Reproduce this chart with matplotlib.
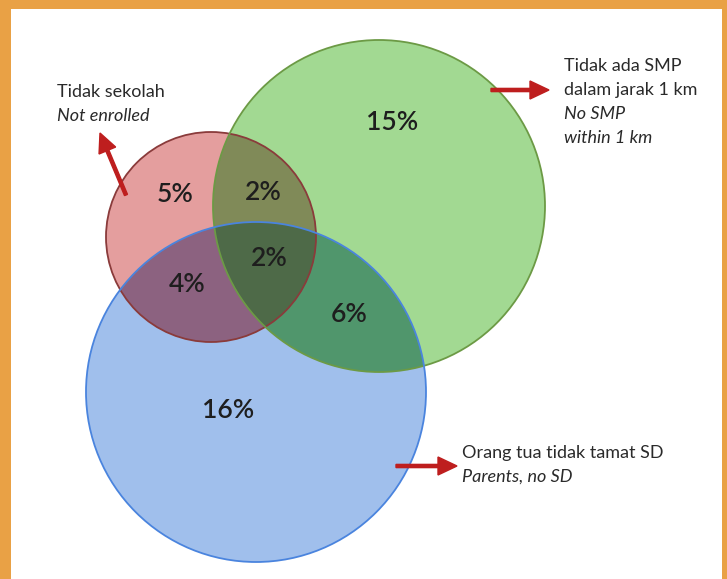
import numpy as np
import matplotlib
matplotlib.use("Agg")
import matplotlib.pyplot as plt
from matplotlib.patches import Circle, Rectangle, Polygon

plt.rcParams['font.family'] = ['Lato', 'DejaVu Sans']

# ---- data ----
set_names = ["Tidak sekolah", "Tidak ada SMP dalam jarak 1 km", "Orang tua tidak tamat SD"]
set_lines = [
    [("Tidak sekolah", "normal"), ("Not enrolled", "italic")],
    [("Tidak ada SMP", "normal"), ("dalam jarak 1 km", "normal"),
     ("No SMP", "italic"), ("within 1 km", "italic")],
    [("Orang tua tidak tamat SD", "normal"), ("Parents, no SD", "italic")],
]
region_keys = ["100", "010", "001", "110", "101", "011", "111"]
region_values = [5, 15, 16, 2, 4, 6, 2]

# ---- layout (pixel coordinates, y downward) ----
W, H = 727, 579
centers = [(211, 237), (379, 206), (256, 392)]
radii = [105, 166, 170]
single_colors = ["#E49E9E", "#A2D992", "#A0BFEC"]
edge_colors = ["#8A3B3B", "#6C9A45", "#4A84DE"]
pair_colors = {"110": "#808A58", "101": "#8C6280", "011": "#50966C"}
triple_color = "#4E6A48"
label_pos = {"100": (175, 194), "010": (392, 122), "001": (228, 411),
             "110": (263, 192), "101": (187, 284), "011": (349, 314), "111": (269, 259)}
set_text_pos = [(57, 92), (564, 66), (462, 453)]
line_step = 24

fig = plt.figure(figsize=(W / 100, H / 100), dpi=100, facecolor="#E9A145")
ax = fig.add_axes([0, 0, 1, 1])
ax.set_xlim(0, W)
ax.set_ylim(H, 0)
ax.set_aspect("equal")
ax.axis("off")

ax.add_patch(Rectangle((11, 9), 711, H - 9 + 5, facecolor="white", edgecolor="none", zorder=0))

fills = []
for (c, r, col) in zip(centers, radii, single_colors):
    p = Circle(c, r, facecolor=col, edgecolor="none", zorder=1)
    ax.add_patch(p)
    fills.append(p)

# pairwise overlaps
pairs = {"110": (1, 0), "101": (2, 0), "011": (2, 1)}
for key, (i, j) in pairs.items():
    p = Circle(centers[i], radii[i], facecolor=pair_colors[key], edgecolor="none", zorder=2)
    ax.add_patch(p)
    p.set_clip_path(fills[j])

# triple overlap polygon
pts = []
t = np.linspace(0, 2 * np.pi, 2000)
for k in range(3):
    cx, cy = centers[k]
    xs = cx + radii[k] * np.cos(t)
    ys = cy + radii[k] * np.sin(t)
    ok = np.ones_like(xs, dtype=bool)
    for m in range(3):
        if m == k:
            continue
        ok &= (xs - centers[m][0]) ** 2 + (ys - centers[m][1]) ** 2 <= radii[m] ** 2 + 1e-6
    pts.append(np.column_stack([xs[ok], ys[ok]]))
pts = np.vstack(pts)
cen = pts.mean(axis=0)
order = np.argsort(np.arctan2(pts[:, 1] - cen[1], pts[:, 0] - cen[0]))
ax.add_patch(Polygon(pts[order], closed=True, facecolor=triple_color, edgecolor="none", zorder=3))

# outlines
for (c, r, ec) in zip(centers, radii, edge_colors):
    ax.add_patch(Circle(c, r, fill=False, edgecolor=ec, linewidth=1.3, zorder=4))

# region labels
for key, val in zip(region_keys, region_values):
    x, y = label_pos[key]
    ax.text(x, y, f"{val}%", ha="center", va="center", fontsize=19,
            fontweight="semibold", color="#1E1E1E", zorder=5)

# set labels
for (x0, y0), lines in zip(set_text_pos, set_lines):
    for n, (s, st) in enumerate(lines):
        ax.text(x0, y0 + n * line_step, s, style=st, fontsize=13, color="#2A2A2A",
                ha="left", va="center", zorder=5)

# arrows
arrow_col = "#BE1E1E"
akw = dict(width=3.2, head_width=18, head_length=19, length_includes_head=True,
           color=arrow_col, zorder=5)
ax.arrow(126, 195, 100 - 126, 133 - 195, **akw)
ax.arrow(491, 90, 549 - 491, 0, **akw)
ax.arrow(396, 466, 457 - 396, 0, **akw)

fig.savefig("out.png", dpi=100, facecolor=fig.get_facecolor())
